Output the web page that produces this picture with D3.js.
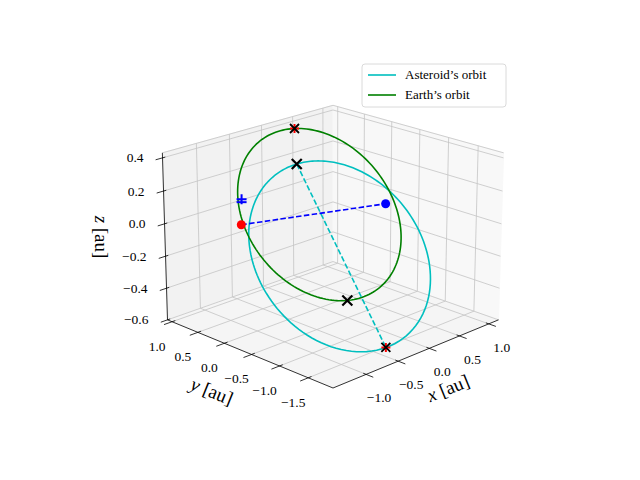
<!DOCTYPE html>
<html><head><meta charset="utf-8">
<script src="https://cdn.jsdelivr.net/npm/d3@7"></script>
<style>body{margin:0;background:#fff}text{font-family:"Liberation Serif","DejaVu Serif",serif}</style>
</head><body>
<svg id="c" width="640" height="480"></svg>
<script>
// ---- data ----
const xDomain = [-1.5, 1.17];
const yDomain = [-1.92, 1.09];
const zDomain = [-0.6, 0.43];
const xTicks = [-1.0, -0.5, 0.0, 0.5, 1.0];
const yTicks = [-1.5, -1.0, -0.5, 0.0, 0.5, 1.0];
const zTicks = [-0.6, -0.4, -0.2, 0.0, 0.2, 0.4];
// orbital elements: [a, e, inclination(deg), node longitude(deg), arg. of perihelion(deg)]
const earthOrbit = [1.0, 0.0, 23.5, -13.5, 0];
const asteroidOrbit = [1.19, 0.45, 20, -22.5, 98.6];
const seriesNames = ["Asteroid\u2019s orbit", "Earth\u2019s orbit"];
// marker positions [x, y, z]
const apsisLine = [[0.143, 0.599, 0.221], [-0.376, -1.579, -0.583]];
const nodeLine = [[-0.913, 0.378, 0.0], [0.770, -0.330, -0.004]];
const blackCross = [[0.143, 0.599, 0.221], [-0.331, -0.857, -0.396]];
const redBlackCross = [[0.331, 0.857, 0.396], [-0.376, -1.579, -0.583]];
const redDot = [[-0.913, 0.378, 0.0]];
const blueDot = [[0.770, -0.330, -0.004]];
const bluePlus = [[-0.731, 0.591, 0.110]];

// ---- view ----
const elev = 20, azim = -135, dist = 10;
const box = [4, 4, 3].map(v => v * 1.8294640721620434 * 25 / 24 / Math.hypot(4, 4, 3));
const nx = d3.scaleLinear().domain(xDomain).range([0, box[0]]);
const ny = d3.scaleLinear().domain(yDomain).range([0, box[1]]);
const nz = d3.scaleLinear().domain(zDomain).range([0, box[2]]);
const er = elev * Math.PI / 180, ar = azim * Math.PI / 180;
const ctr = box.map(b => b / 2);
const dir = [Math.cos(er) * Math.cos(ar), Math.cos(er) * Math.sin(ar), Math.sin(er)];
const eye = ctr.map((c, i) => c + dist * dir[i]);
const w = dir;
let u = [-w[1], w[0], 0]; const un = Math.hypot(...u); u = u.map(v => v / un);
const v = [w[1]*u[2]-w[2]*u[1], w[2]*u[0]-w[0]*u[2], w[0]*u[1]-w[1]*u[0]];
function rawProj(p) {
  const q = [nx(p[0]), ny(p[1]), nz(p[2])];
  const d = q.map((c, i) => c - eye[i]);
  const zv = d[0]*w[0]+d[1]*w[1]+d[2]*w[2];
  return [(d[0]*u[0]+d[1]*u[1]+d[2]*u[2]) / -zv, (d[0]*v[0]+d[1]*v[1]+d[2]*v[2]) / -zv];
}
const [x0,x1] = xDomain, [y0,y1] = yDomain, [z0,z1] = zDomain;
const pL = rawProj([x0,y1,z0]), pR = rawProj([x1,y0,z0]), pF = rawProj([x0,y0,z0]), pT = rawProj([x0,y1,z1]);
const sx = d3.scaleLinear().domain([pL[0], pR[0]]).range([167, 498]);
const kY = (320 - 153) / (pT[1] - pL[1]);
const sy = d3.scaleLinear().domain([pF[1], pF[1] + 1]).range([388, 388 - kY]);
const sxShift = 333 - sx(pF[0]);
function P(p) { const r = rawProj(p); return [sx(r[0]) + sxShift, sy(r[1])]; }

function orbitPoints(el) {
  const [a, e, inc, node, peri] = el;
  const i = inc*Math.PI/180, O = node*Math.PI/180, om = peri*Math.PI/180;
  const N = [Math.cos(O), Math.sin(O), 0];
  const W = [-Math.sin(O)*Math.cos(i), Math.cos(O)*Math.cos(i), Math.sin(i)];
  return d3.range(0, 361, 2).map(deg => {
    const nu = deg*Math.PI/180;
    const r = a*(1-e*e)/(1+e*Math.cos(nu));
    const ang = om + nu;
    return [0,1,2].map(k => r*(Math.cos(ang)*N[k] + Math.sin(ang)*W[k]));
  });
}

const svg = d3.select("#c");
const line = d3.line();
const poly = pts => line(pts.map(P)) + "Z";

// panes
svg.append("path").attr("d", poly([[x0,y1,z0],[x1,y1,z0],[x1,y1,z1],[x0,y1,z1]])).attr("fill","#f2f2f2").attr("stroke","#f2f2f2");
svg.append("path").attr("d", poly([[x1,y0,z0],[x1,y1,z0],[x1,y1,z1],[x1,y0,z1]])).attr("fill","#f8f8f8").attr("stroke","#f8f8f8");
svg.append("path").attr("d", poly([[x0,y0,z0],[x1,y0,z0],[x1,y1,z0],[x0,y1,z0]])).attr("fill","#f5f5f5").attr("stroke","#f5f5f5");

// grid
const grid = svg.append("g").attr("stroke","#c4c4c4").attr("stroke-width",0.8).attr("fill","none");
const seg = (a,b) => grid.append("path").attr("d", line([P(a),P(b)]));
xTicks.forEach(t => { seg([t,y0,z0],[t,y1,z0]); seg([t,y1,z0],[t,y1,z1]); });
yTicks.forEach(t => { seg([x0,t,z0],[x1,t,z0]); seg([x1,t,z0],[x1,t,z1]); });
zTicks.forEach(t => { seg([x0,y1,t],[x1,y1,t]); seg([x1,y1,t],[x1,y0,t]); });
seg([x0,y1,z1],[x1,y1,z1]); seg([x1,y1,z1],[x1,y0,z1]);

// axes
const ax = svg.append("g").attr("stroke","#000").attr("stroke-width",0.8).attr("fill","none");
ax.append("path").attr("d", line([P([x0,y0,z0]),P([x1,y0,z0])]));
ax.append("path").attr("d", line([P([x0,y0,z0]),P([x0,y1,z0])]));
ax.append("path").attr("d", line([P([x0,y1,z0]),P([x0,y1,z1])]));
const fmt = t => (t < 0 ? "\u2212" : "") + Math.abs(t).toFixed(1);
const lab = svg.append("g").attr("font-size", 13.5).attr("fill","#000").attr("text-anchor","middle");
function tick(p, q) { ax.append("path").attr("d", line([[p[0]-(q[0]-p[0])*0.4, p[1]-(q[1]-p[1])*0.4], q])); }
xTicks.forEach(t => { const p = P([t,y0,z0]); tick(p, P([t,y0-0.12,z0]));
  lab.append("text").attr("x", p[0]+13).attr("y", p[1]+28).text(fmt(t)); });
yTicks.forEach(t => { const p = P([x0,t,z0]); tick(p, P([x0-0.12,t,z0]));
  lab.append("text").attr("x", p[0]-15).attr("y", p[1]+29).text(fmt(t)); });
zTicks.forEach(t => { const p = P([x0,y1,t]); tick(p, P([x0-0.1,y1,t]));
  lab.append("text").attr("text-anchor","end").attr("x", p[0]-19).attr("y", p[1]+4.5).text(fmt(t)); });

// axis labels
function axisLabel(x, y, rot, letter) {
  const t = svg.append("text").attr("font-size", 19).attr("text-anchor","middle")
    .attr("transform", `translate(${x},${y}) rotate(${rot})`).attr("dy","0.35em");
  t.append("tspan").attr("font-style","italic").text(letter);
  t.append("tspan").text(" [au]");
}
axisLabel(448, 388, -22, "x");
axisLabel(212, 391, 22, "y");
axisLabel(102, 237, 90, "z");

// orbits
const curves = [asteroidOrbit, earthOrbit];
const colors = ["#00bfbf", "#008000"];
curves.forEach((el, k) => svg.append("path").attr("d", line(orbitPoints(el).map(P)))
  .attr("fill","none").attr("stroke", colors[k]).attr("stroke-width", 1.6));

// dashed lines
svg.append("path").attr("d", line(apsisLine.map(P))).attr("fill","none").attr("stroke","#00bfbf")
  .attr("stroke-width",1.6).attr("stroke-dasharray","5.5,2.4");
svg.append("path").attr("d", line(nodeLine.map(P))).attr("fill","none").attr("stroke","#0000ff")
  .attr("stroke-width",1.6).attr("stroke-dasharray","5.5,2.4");

// markers
const mk = svg.append("g");
function cross(p, s, col, sw) { const [x,y] = P(p);
  mk.append("path").attr("d", `M${x-s},${y-s}L${x+s},${y+s}M${x-s},${y+s}L${x+s},${y-s}`).attr("stroke",col).attr("stroke-width",sw); }
function plus(p, s, col, sw) { const [x,y] = P(p);
  mk.append("path").attr("d", `M${x-s},${y}L${x+s},${y}M${x},${y-s}L${x},${y+s}`).attr("stroke",col).attr("stroke-width",sw); }
redBlackCross.forEach(p => { plus(p, 4.5, "#ff0000", 2); cross(p, 4.5, "#000", 1.8); });
blackCross.forEach(p => cross(p, 5, "#000", 2.2));
redDot.forEach(p => { const [x,y]=P(p); mk.append("circle").attr("cx",x).attr("cy",y).attr("r",4.5).attr("fill","#ff0000"); });
blueDot.forEach(p => { const [x,y]=P(p); mk.append("circle").attr("cx",x).attr("cy",y).attr("r",4.5).attr("fill","#0000ff"); });
bluePlus.forEach(p => { plus(p, 5, "#0000ff", 2); const [x,y]=P(p);
  mk.append("path").attr("d", `M${x-5},${y+3}L${x+5},${y+3}`).attr("stroke","#0000ff").attr("stroke-width",2); });

// legend
const lg = svg.append("g").attr("transform","translate(362,64)");
lg.append("rect").attr("width",144).attr("height",43).attr("rx",3).attr("fill","#fff").attr("stroke","#d0d0d0").attr("stroke-width",0.8);
seriesNames.forEach((n, k) => {
  lg.append("line").attr("x1",6).attr("x2",34).attr("y1",11+k*20).attr("y2",11+k*20).attr("stroke",colors[k]).attr("stroke-width",1.6);
  lg.append("text").attr("x",43).attr("y",15+k*20).attr("font-size",13).text(n);
});
</script>
</body></html>
